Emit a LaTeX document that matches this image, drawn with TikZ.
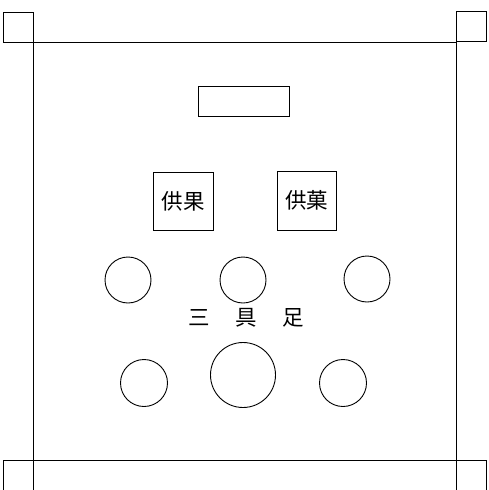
\documentclass[tikz,border=0pt]{standalone}
\usepackage{fontspec}
\newfontfamily\cjk{Noto Sans CJK JP}
\begin{document}
\begin{tikzpicture}[x=1pt,y=-1pt,line width=0.9pt,
  item/.style={draw,circle,inner sep=0pt},
  lbl/.style={font=\cjk\fontsize{21.5}{23}\selectfont,inner sep=0pt}]
\useasboundingbox (0,0) rectangle (488,490);
\coordinate (tl) at (33,42);
\coordinate (br) at (456,460);
\draw (tl) rectangle (br);
\draw (3,12) rectangle (33,42);
\draw (456,11) rectangle (486,41);
\draw (3,460) rectangle (33,490);
\draw (456,460) rectangle (486,490);
\node[draw,minimum width=91pt,minimum height=30pt,inner sep=0pt] (plate) at (243.5,101) {};
\node[draw,minimum width=60pt,minimum height=58pt,inner sep=0pt,lbl] (a) at (183,201) {供果};
\node[draw,minimum width=59pt,minimum height=59pt,inner sep=0pt,lbl] (b) at (306.5,200.5) {供菓};
\node[item,minimum size=46pt] (c1) at (128,280) {};
\node[item,minimum size=46pt] (c2) at (243,280) {};
\node[item,minimum size=46pt] (c3) at (367,279) {};
\node[lbl] (t1) at (199,318) {三};
\node[lbl] (t2) at (246,318) {具};
\node[lbl] (t3) at (293,318) {足};
\node[item,minimum size=47pt] (c4) at (144,383) {};
\node[item,minimum size=65pt] (c5) at (243,375) {};
\node[item,minimum size=47pt] (c6) at (343,383) {};
\end{tikzpicture}
\end{document}
